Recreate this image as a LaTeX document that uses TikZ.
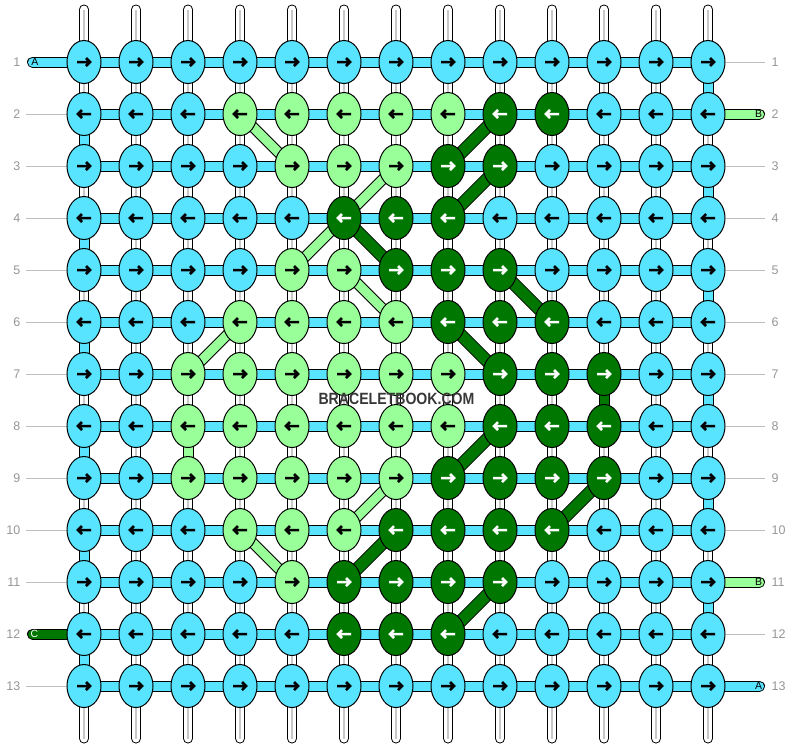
\documentclass[tikz,border=0pt]{standalone}
\usepackage{fontspec}
\setmainfont{Liberation Sans}
\usetikzlibrary{shapes.geometric,backgrounds}
\definecolor{cy}{RGB}{88,228,255}
\definecolor{lg}{RGB}{153,255,153}
\definecolor{dg}{RGB}{0,119,0}
\definecolor{numgray}{RGB}{150,150,150}
\definecolor{linegray}{RGB}{190,190,190}
\definecolor{coregray}{RGB}{200,200,200}
\definecolor{wmcol}{RGB}{55,55,55}
\begin{document}
\begin{tikzpicture}[x=1pt,y=-1pt,
  knot/.style={ellipse,draw=black,line width=1pt,minimum width=34pt,minimum height=43pt,inner sep=0pt},
  kc/.style={fill=cy}, kl/.style={fill=lg}, kd/.style={fill=dg},
  ac/.style={black}, al/.style={black}, ad/.style={white},
  arr/.style={line width=2.5pt,line join=miter,line cap=butt},
  band/.style={draw=black,line width=1pt,double=#1,double distance=9pt},
  diagl/.style={draw=black,line width=1pt,double=lg,double distance=9pt},
  diagd/.style={draw=black,line width=1pt,double=dg,double distance=11pt},
  wstring/.style={draw=black,line width=1pt,double=white,double distance=8pt,line cap=round},
  wcore/.style={draw=coregray,line width=2pt},
  gline/.style={draw=linegray,line width=1pt},
  num/.style={inner sep=0pt,text=numgray,font=\fontsize{12.5}{14}\selectfont},
  lbl/.style={inner sep=0pt,font=\fontsize{10.5}{12}\selectfont},
  wmark/.style={inner sep=0pt,text=wmcol,font=\bfseries\fontsize{16.3}{18}\selectfont}
]
\useasboundingbox (0,0) rectangle (792,748);

% knots
\foreach \r/\row in {
  1/{c,c,c,c,c,c,c,c,c,c,c,c,c},
  2/{c,c,c,l,l,l,l,l,d,d,c,c,c},
  3/{c,c,c,c,l,l,l,d,d,c,c,c,c},
  4/{c,c,c,c,c,d,d,d,c,c,c,c,c},
  5/{c,c,c,c,l,l,d,d,d,c,c,c,c},
  6/{c,c,c,l,l,l,l,d,d,d,c,c,c},
  7/{c,c,l,l,l,l,l,l,d,d,d,c,c},
  8/{c,c,l,l,l,l,l,l,d,d,d,c,c},
  9/{c,c,l,l,l,l,l,d,d,d,d,c,c},
  10/{c,c,c,l,l,l,d,d,d,d,c,c,c},
  11/{c,c,c,c,l,d,d,d,d,c,c,c,c},
  12/{c,c,c,c,c,d,d,d,c,c,c,c,c},
  13/{c,c,c,c,c,c,c,c,c,c,c,c,c}} {
  \pgfmathtruncatemacro\dir{2*mod(\r,2)-1}
  \foreach \col [count=\c] in \row {
    \node[knot,k\col] (k-\r-\c) at ({84+52*(\c-1)},{62+52*(\r-1)}) {};
    \draw[arr,a\col,shift={(k-\r-\c.center)},xscale=\dir] (-7,0)--(6,0) (2,-4)--(6,0)--(2,4);
  }
}

% row numbers
\foreach \r in {1,...,13} {
  \node[num,anchor=east] (nl-\r) at (20.5,{62+52*(\r-1)}) {\r};
  \node[num,anchor=west] (nr-\r) at (771.5,{62+52*(\r-1)}) {\r};
}

% string labels
\node[lbl] (tA1) at (35,62) {A};
\node[lbl] (tB2) at (758.5,114) {B};
\node[lbl] (tB11) at (758.5,582) {B};
\node[lbl,text=white] (tC12) at (34.5,634) {C};
\node[lbl] (tA13) at (758.5,686) {A};

% watermark
\node[wmark] (wm) at (396.5,399) {\scalebox{0.865}[1]{BRACELETBOOK.COM}};

\begin{pgfonlayer}{background}
  % vertical white strings
  \foreach \c in {1,...,13} {
    \coordinate (top-\c) at ({84+52*(\c-1)},9.5);
    \coordinate (bot-\c) at ({84+52*(\c-1)},738.5);
    \draw[wstring] (top-\c) -- (bot-\c);
    \draw[wcore] (top-\c) -- (bot-\c);
  }
  % turnarounds of A
  \foreach \r in {1,...,12} {
    \pgfmathtruncatemacro\n{\r+1}
    \pgfmathtruncatemacro\cc{1+12*mod(\r,2)}
    \draw[band=cy] (k-\r-\cc.center) -- (k-\n-\cc.center);
  }
  \draw[band=lg] (k-8-3.center) -- (k-9-3.center);
  \draw[band=dg] (k-7-11.center) -- (k-8-11.center);
  % horizontal bands
  \foreach \r in {1,...,13} {
    \foreach \c in {1,...,12} {
      \pgfmathtruncatemacro\n{\c+1}
      \draw[band=cy] (k-\r-\c.center) -- (k-\r-\n.center);
    }
  }
  % loose ends
  \coordinate (sA1) at (32.5,62);
  \coordinate (sB2) at (759.5,114);
  \coordinate (sB11) at (759.5,582);
  \coordinate (sC12) at (32.5,634);
  \coordinate (sA13) at (759.5,686);
  \draw[band=cy,line cap=round] (sA1) -- (k-1-1.center);
  \draw[band=lg,line cap=round] (sB2) -- (k-2-13.center);
  \draw[band=lg,line cap=round] (sB11) -- (k-11-13.center);
  \draw[band=dg,line cap=round] (sC12) -- (k-12-1.center);
  \draw[band=cy,line cap=round] (sA13) -- (k-13-13.center);
  % gray guide lines
  \foreach \r in {2,...,11,13} {
    \coordinate (gl-\r) at (26,{62+52*(\r-1)});
    \draw[gline] (gl-\r) -- (k-\r-1);
  }
  \foreach \r in {1,3,4,5,6,7,8,9,10,12} {
    \coordinate (gr-\r) at (765,{62+52*(\r-1)});
    \draw[gline] (k-\r-13) -- (gr-\r);
  }
  % diagonals light green
  \foreach \a/\b in {2-4/3-5, 3-7/4-6, 4-6/5-5, 5-6/6-7, 6-4/7-3, 9-7/10-6, 10-4/11-5}
    \draw[diagl] (k-\a.center) -- (k-\b.center);
  % diagonals dark green
  \foreach \a/\b in {2-9/3-8, 3-9/4-8, 4-6/5-7, 5-9/6-10, 6-8/7-9, 8-9/9-8, 9-11/10-10, 10-7/11-6, 11-9/12-8}
    \draw[diagd] (k-\a.center) -- (k-\b.center);
\end{pgfonlayer}
\end{tikzpicture}
\end{document}
